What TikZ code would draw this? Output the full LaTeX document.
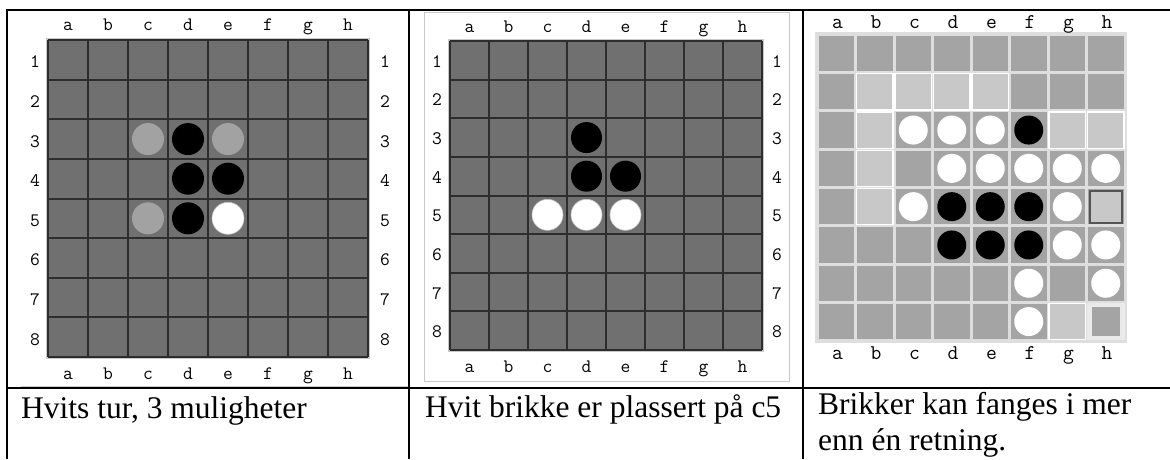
\documentclass[tikz,border=0pt]{standalone}
\usepackage{fontspec}
\setmainfont{Liberation Serif}
\definecolor{boardA}{RGB}{112,112,112}
\definecolor{gridA}{RGB}{45,45,45}
\definecolor{rimA}{RGB}{200,200,200}
\definecolor{pgrey}{RGB}{162,162,162}
\definecolor{cellD}{RGB}{164,164,164}
\definecolor{cellL}{RGB}{200,200,200}
\definecolor{gapC}{RGB}{222,222,222}
\definecolor{pale}{RGB}{234,234,234}
\definecolor{hibox}{RGB}{85,85,85}
\tikzset{
  frameline/.style={black,line width=2pt},
  gridline/.style={gridA,line width=2pt},
  lab/.style={font=\ttfamily\fontsize{19}{19}\selectfont,inner sep=0pt,anchor=base},
  labC/.style={font=\ttfamily\fontsize{21}{21}\selectfont,inner sep=0pt,anchor=base},
  captxt/.style={font=\fontsize{31.5}{36}\selectfont,inner sep=0pt,anchor=base west},
  wpiece/.style={fill=white,draw=gray!45,line width=0.6pt},
}
\begin{document}
\begin{tikzpicture}[x=1pt,y=-1pt]
\useasboundingbox (0,0) rectangle (1170,459);
\fill[white] (0,0) rectangle (1170,459);

% ---------- Panel 1 ----------
\fill[rimA] (46,38) rectangle (370,359);
\fill[boardA] (48,40) rectangle (368,357);
\foreach \i in {0,...,8} \draw[gridline] ({48+40*\i},40) -- ({48+40*\i},357);
\foreach \j in {0,...,8} \draw[gridline] (48,{40+39.625*\j}) -- (368,{40+39.625*\j});
\foreach \c/\r/\col in {3/3/pgrey,4/3/black,5/3/pgrey,4/4/black,5/4/black,3/5/pgrey,4/5/black}
  \fill[\col] ({48+40*(\c-0.5)},{40+39.625*(\r-0.5)}) circle (16);
\draw[wpiece] ({48+40*4.5},{40+39.625*4.5}) circle (16);
\foreach \l [count=\i] in {a,...,h} {
  \node[lab] (pAt\i) at ({28+40*\i},30) {\l};
  \node[lab] (pAb\i) at ({28+40*\i},379) {\l};
}
\foreach \i in {1,...,8} {
  \node[lab] (pAl\i) at (35,{48+39.625*(\i-0.5)}) {\i};
  \node[lab] (pAr\i) at (385,{48+39.625*(\i-0.5)}) {\i};
}
\draw[rimA,line width=1pt] (21,386) -- (408,386);

% ---------- Panel 2 ----------
\draw[rimA,line width=1pt] (424,12) rectangle (789,381);
\fill[rimA] (448,39) rectangle (764,352);
\fill[boardA] (450,41) rectangle (762,350);
\foreach \i in {0,...,8} \draw[gridline] ({450+39*\i},41) -- ({450+39*\i},350);
\foreach \j in {0,...,8} \draw[gridline] (450,{41+38.625*\j}) -- (762,{41+38.625*\j});
\foreach \c/\r in {4/3,4/4,5/4}
  \fill[black] ({450+39*(\c-0.5)},{41+38.625*(\r-0.5)}) circle (15.5);
\foreach \c/\r in {3/5,4/5,5/5}
  \draw[wpiece] ({450+39*(\c-0.5)},{41+38.625*(\r-0.5)}) circle (15.5);
\foreach \l [count=\i] in {a,...,h} {
  \node[lab] (pBt\i) at ({430.5+39*\i},32) {\l};
  \node[lab] (pBb\i) at ({430.5+39*\i},372) {\l};
}
\foreach \i in {1,...,8} {
  \node[lab] (pBl\i) at (437,{48+38.625*(\i-0.5)}) {\i};
  \node[lab] (pBr\i) at (777,{48+38.625*(\i-0.5)}) {\i};
}

% ---------- Panel 3 ----------
\fill[gapC] (815,32.3) rectangle (1127,342.7);
\foreach \r in {1,...,8}
  \foreach \c in {1,...,8}
    \fill[cellD] ({817+38.5*(\c-1)+1.5},{34.3+38.3*(\r-1)+1.5}) rectangle ({817+38.5*\c-1.5},{34.3+38.3*\r-1.5});
\foreach \c/\r in {2/2,3/2,4/2,5/2,2/3,7/3,8/3,2/4,2/5,7/8}
  \draw[white,line width=1.2pt,fill=cellL] ({817+38.5*(\c-1)+1},{34.3+38.3*(\r-1)+1}) rectangle ({817+38.5*\c-1},{34.3+38.3*\r-1});
% h5 highlighted square
\draw[hibox,line width=2pt,fill=cellL] ({817+38.5*7+3},{34.3+38.3*4+3}) rectangle ({817+38.5*8-3},{34.3+38.3*5-3});
% h8 inset square
\fill[pale] ({817+38.5*7+0.5},{34.3+38.3*7+0.5}) rectangle ({817+38.5*8-0.5},{34.3+38.3*8-0.5});
\fill[cellD] ({817+38.5*7+5},{34.3+38.3*7+5}) rectangle ({817+38.5*8-5},{34.3+38.3*8-5});
\foreach \c/\r in {6/3,4/5,5/5,6/5,4/6,5/6,6/6}
  \fill[black] ({817+38.5*(\c-0.5)},{34.3+38.3*(\r-0.5)}) circle (14.5);
\foreach \c/\r in {3/3,4/3,5/3,4/4,5/4,6/4,7/4,8/4,3/5,7/5,7/6,8/6,6/7,8/7,6/8}
  \fill[white] ({817+38.5*(\c-0.5)},{34.3+38.3*(\r-0.5)}) circle (14.5);
\foreach \l [count=\i] in {a,...,h} {
  \node[labC] (pCt\i) at ({799+38.5*\i},28.5) {\l};
  \node[labC] (pCb\i) at ({799+38.5*\i},359) {\l};
}

% ---------- Table frame ----------
\draw[frameline] (7,10) -- (1170,10);
\draw[frameline] (7,388) -- (1170,388);
\draw[frameline] (7,9) -- (7,459);
\draw[frameline] (409,10) -- (409,459);
\draw[frameline] (803,10) -- (803,459);

% ---------- Captions ----------
\node[captxt] (capA) at (21,418) {Hvits tur, 3 muligheter};
\node[captxt] (capB) at (425,417) {Hvit brikke er plassert på c5};
\node[captxt] (capC1) at (818,414) {Brikker kan fanges i mer};
\node[captxt] (capC2) at (818,450) {enn én retning.};
\end{tikzpicture}
\end{document}
